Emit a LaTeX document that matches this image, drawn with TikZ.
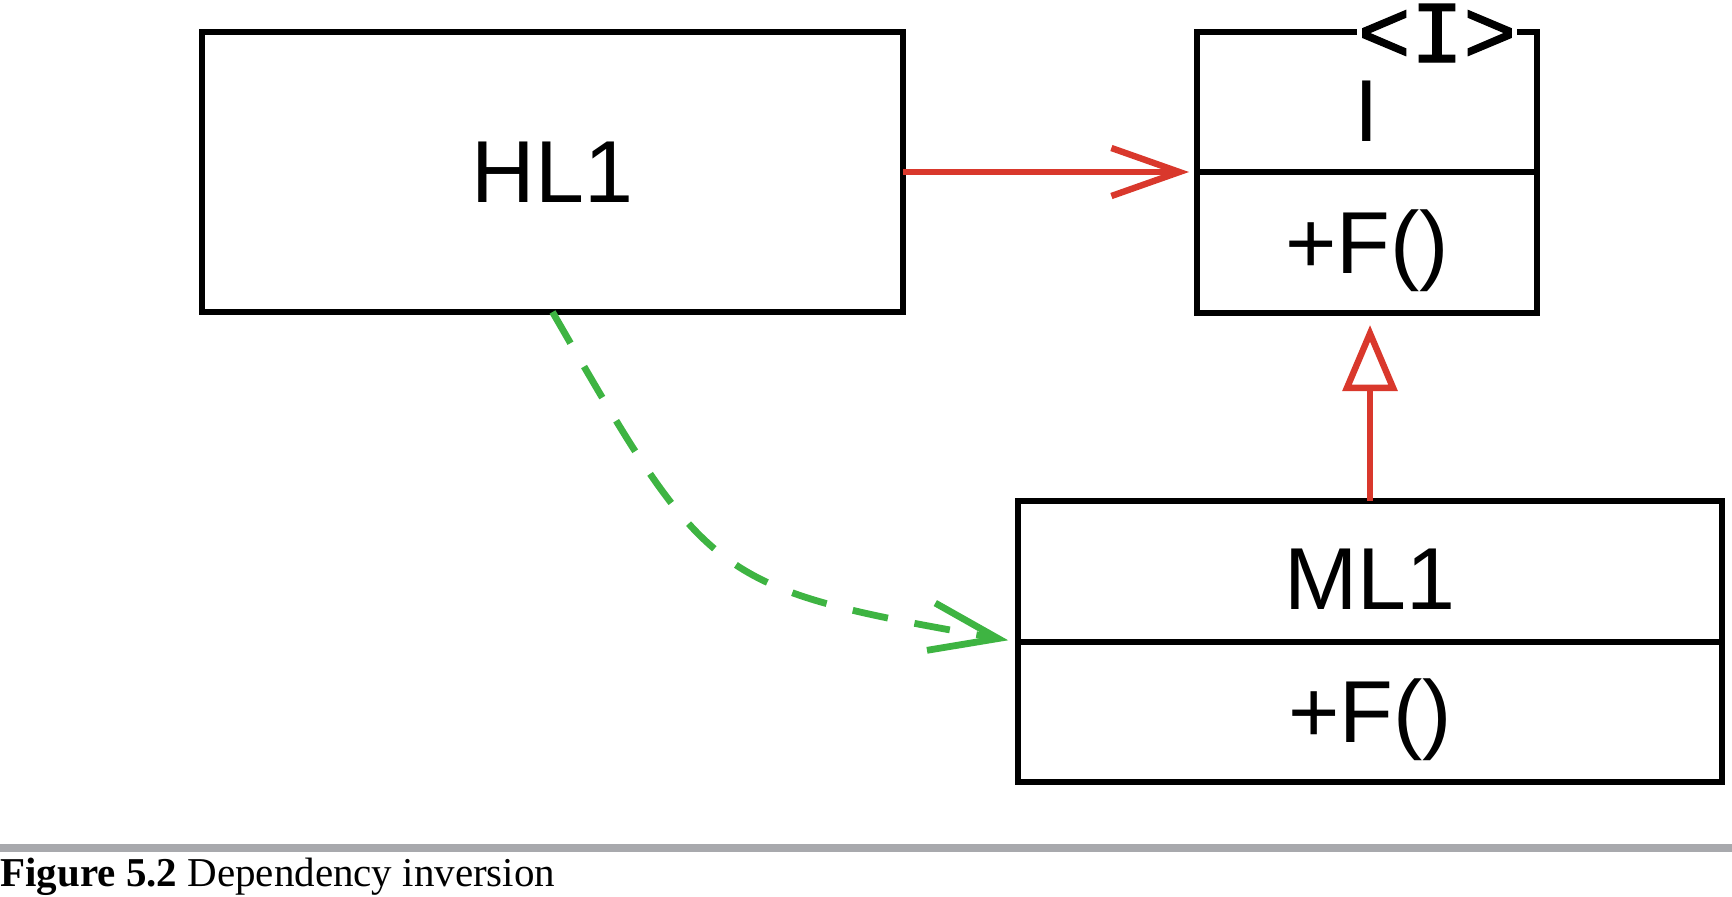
\documentclass[tikz,border=0pt]{standalone}
\usepackage{fontspec}
\setmainfont{Liberation Sans}
\newfontfamily\capfont{Liberation Serif}
\newfontfamily\stereofont[FakeBold=1.6]{Liberation Mono}
\usetikzlibrary{arrows.meta}
\definecolor{umlred}{RGB}{217,56,44}
\definecolor{umlgreen}{RGB}{62,180,66}
\definecolor{rulegray}{RGB}{168,169,173}
\tikzset{
  box/.style={draw=black, line width=3.3pt, inner sep=0pt, outer sep=0pt},
  nametext/.style={inner sep=0pt, font=\fontsize{44pt}{48pt}\selectfont},
  stereo/.style={inner sep=0.5pt, fill=white, text height=28pt, text depth=0pt, font=\stereofont\fontsize{44pt}{48pt}\selectfont},
  redline/.style={draw=umlred, line width=3.2pt},
  greenline/.style={draw=umlgreen, line width=3.4pt, dash pattern=on 18pt off 13.5pt},
  openv/.style={-{Straight Barb[length=34pt,width=24pt]}},
  hollowtri/.style={-{Triangle[open,length=33pt,width=27pt]}},
  captext/.style={anchor=base west, inner sep=0pt, font=\capfont\fontsize{20.5pt}{24pt}\selectfont}
}
\begin{document}
\begin{tikzpicture}[x=0.5pt,y=-0.5pt]
\useasboundingbox (0,0) rectangle (1732,896);
% caption rule
\fill[rulegray] (0,844) rectangle (1732,852);
% HL1
\node[box, minimum width=350.5pt, minimum height=140pt, nametext] (hl1) at (552.5,172) {HL1};
% interface I
\node[box, minimum width=170pt, minimum height=70pt] (iname) at (1367,102) {};
\node[box, minimum width=170pt, minimum height=70.5pt] (iops) at (1367,242.5) {};
\node[nametext] (inamet) at ([yshift=-4.5pt]iname.center) {I};
\node[nametext] (iopst) at ([yshift=-4pt]iops.center) {+F()};
\node[stereo, anchor=base] (istereo) at (1437,62) {<I>};
% ML1
\node[box, minimum width=352pt, minimum height=70.5pt] (ml1) at (1370,571.5) {};
\node[box, minimum width=352pt, minimum height=70pt] (ml1ops) at (1370,712) {};
\node[nametext] (ml1t) at ([yshift=-4pt]ml1.center) {ML1};
\node[nametext] (ml1opst) at ([yshift=-4pt]ml1ops.center) {+F()};
% connectors
\draw[redline, openv, shorten >=4pt] (hl1.east) -- (iname.south west);
\draw[redline, hollowtri, shorten >=6pt] (ml1.north) -- (ml1.north |- iops.south);
\draw[greenline, openv, shorten >=5pt] (hl1.south) to[out=-60,in=170,looseness=1.4] (ml1.south west);
% caption
\node[captext] (cap) at (0,886) {\textbf{Figure 5.2} Dependency inversion};
\end{tikzpicture}
\end{document}
